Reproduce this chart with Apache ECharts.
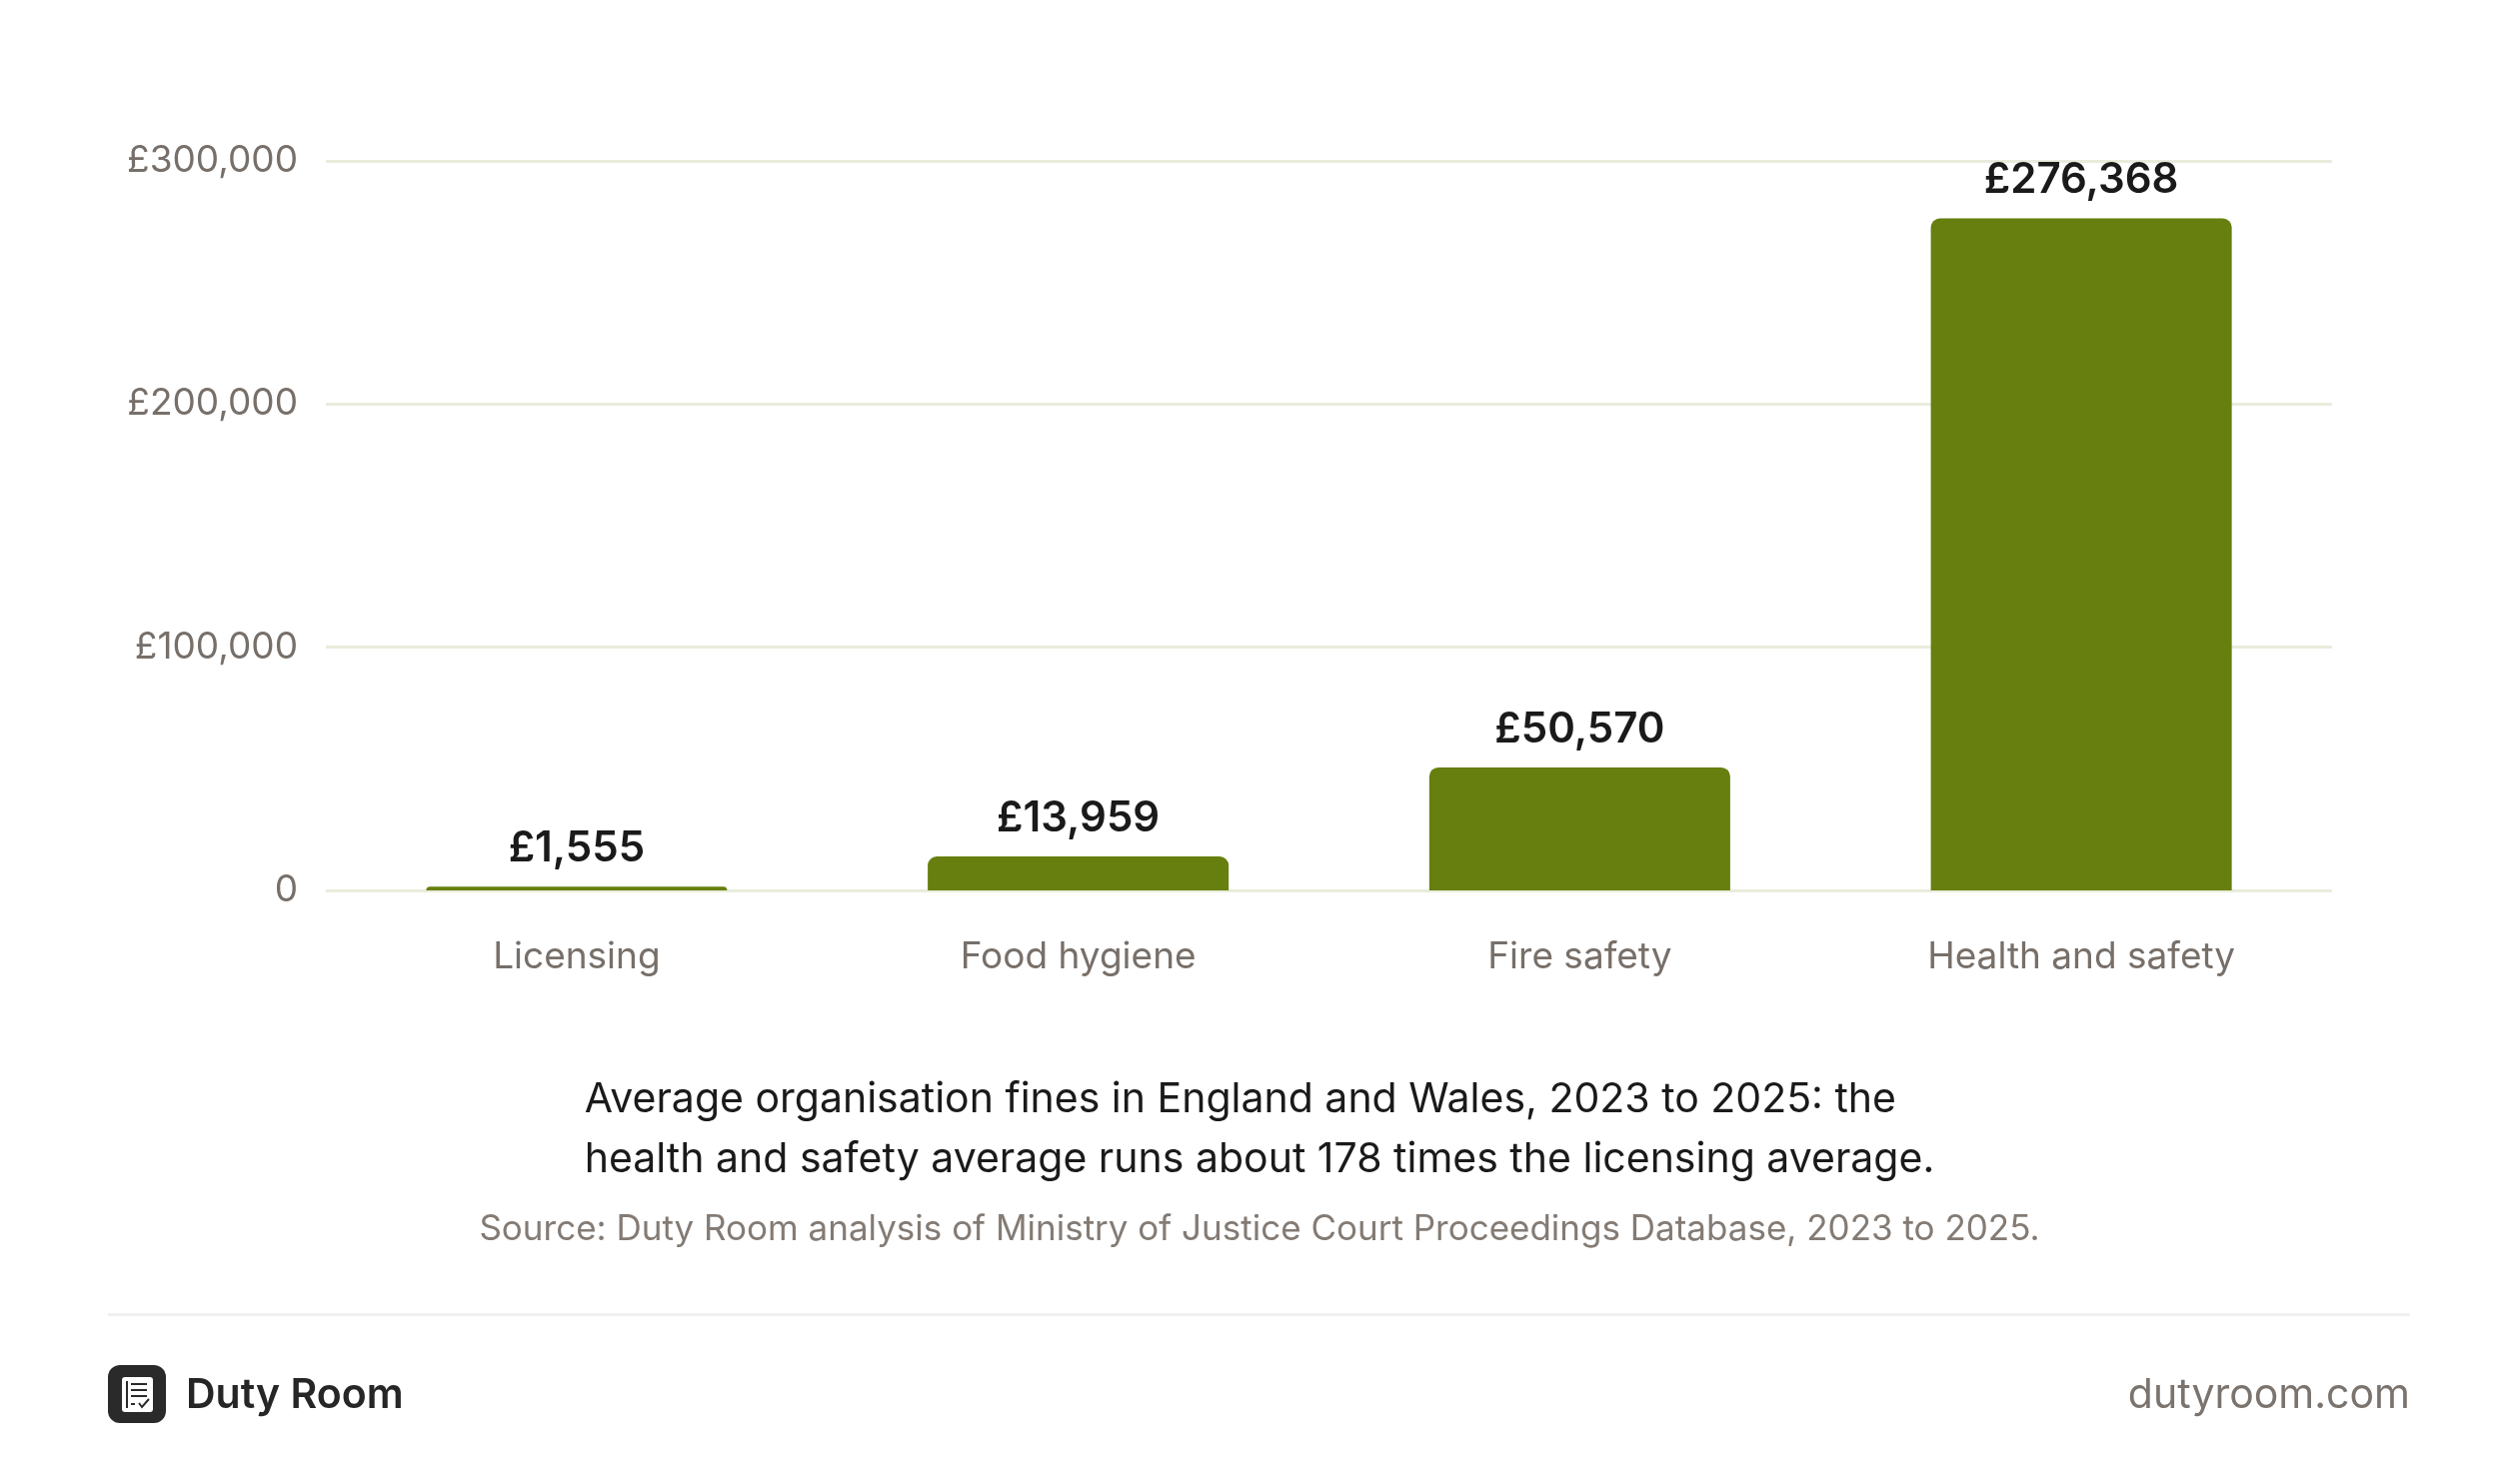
<!DOCTYPE html>
<html>
<head>
<meta charset="utf-8">
<script src="https://cdn.jsdelivr.net/npm/echarts@6/dist/echarts.min.js"></script>
<style>
  html, body { margin: 0; padding: 0; background: #ffffff; }
  #demo { width: 2520px; height: 1485px; }
</style>
</head>
<body>
<div id="demo"></div>
<script>
var categories = ['Licensing', 'Food hygiene', 'Fire safety', 'Health and safety'];
var fines = [1555, 13959, 50570, 276368];
var yTicks = [0, 100000, 200000, 300000];
var captionLines = [
    'Average organisation fines in England and Wales, 2023 to 2025: the',
    'health and safety average runs about 178 times the licensing average.'
];
var sourceText = 'Source: Duty Room analysis of Ministry of Justice Court Proceedings Database, 2023 to 2025.';

window.onload = function() {
    var font = 'Inter, "Noto Sans", sans-serif';
    function money(v) {
        return v === 0 ? '0' : '£' + v.toLocaleString('en-GB');
    }

    var option = {
        backgroundColor: '#ffffff',
        textStyle: { fontFamily: font },
        grid: {
            left: 326,
            right: 187,
            top: 161,
            height: 730
        },
        xAxis: {
            type: 'category',
            data: categories,
            axisLine: { show: false },
            axisTick: { show: false },
            axisLabel: {
                color: '#776f69',
                fontSize: 37,
                fontFamily: font,
                margin: 48
            }
        },
        yAxis: {
            type: 'value',
            min: yTicks[0],
            max: yTicks[yTicks.length - 1],
            interval: yTicks[1] - yTicks[0],
            axisLine: { show: false },
            axisTick: { show: false },
            splitLine: { lineStyle: { color: '#e9ecdc', width: 3 } },
            axisLabel: {
                color: '#776f69',
                fontSize: 37,
                fontFamily: font,
                margin: 28,
                formatter: money
            }
        },
        series: [{
            type: 'bar',
            data: fines,
            barWidth: '60%',
            itemStyle: { color: '#667f0e', borderRadius: [9, 9, 0, 0] },
            label: {
                show: true,
                position: 'top',
                distance: 17,
                color: '#1a1a1a',
                fontSize: 42,
                fontWeight: 600,
                fontFamily: font,
                formatter: function(p) { return money(p.value); }
            }
        }],
        graphic: [
            {
                type: 'text', left: 'center', top: 1071,
                style: {
                    text: captionLines.join('\n'), fill: '#1a1a1a', fontSize: 41,
                    fontFamily: font, lineHeight: 60, align: 'center'
                }
            },
            {
                type: 'text', left: 'center', top: 1213,
                style: { text: sourceText, fill: '#837b74', fontSize: 35, fontFamily: font }
            },
            {
                type: 'rect', shape: { x: 108, y: 1314, width: 2303, height: 3 },
                style: { fill: '#f1f0ee' }
            },
            // logo icon
            {
                type: 'rect', shape: { x: 108, y: 1366, width: 58, height: 58, r: 12 },
                style: { fill: '#2b2a2a' }
            },
            {
                type: 'rect', shape: { x: 122, y: 1378, width: 31, height: 35, r: 3 },
                style: { fill: '#ffffff' }
            },
            {
                type: 'rect', shape: { x: 126, y: 1382, width: 2, height: 27 },
                style: { fill: '#2b2a2a' }
            },
            {
                type: 'polyline', shape: { points: [[131, 1385], [147, 1385]] },
                style: { stroke: '#2b2a2a', lineWidth: 2 }
            },
            {
                type: 'polyline', shape: { points: [[131, 1391], [147, 1391]] },
                style: { stroke: '#2b2a2a', lineWidth: 2 }
            },
            {
                type: 'polyline', shape: { points: [[131, 1397], [147, 1397]] },
                style: { stroke: '#2b2a2a', lineWidth: 2 }
            },
            {
                type: 'polyline', shape: { points: [[131, 1405], [135, 1405]] },
                style: { stroke: '#2b2a2a', lineWidth: 2 }
            },
            {
                type: 'polyline', shape: { points: [[139, 1404], [142, 1408], [149, 1400]] },
                style: { stroke: '#2b2a2a', lineWidth: 2, fill: null }
            },
            {
                type: 'text', left: 186, top: 1376,
                style: { text: 'Duty Room', fill: '#262626', fontSize: 41, fontWeight: 600, fontFamily: font }
            },
            {
                type: 'text', right: 109, top: 1376,
                style: { text: 'dutyroom.com', fill: '#7b736d', fontSize: 41, fontFamily: font }
            }
        ]
    };

    var myCharts = echarts.init(document.getElementById('demo'));
    myCharts.setOption(option);
    window.onresize = function() {
        myCharts.resize();
    };
};
</script>
</body>
</html>
